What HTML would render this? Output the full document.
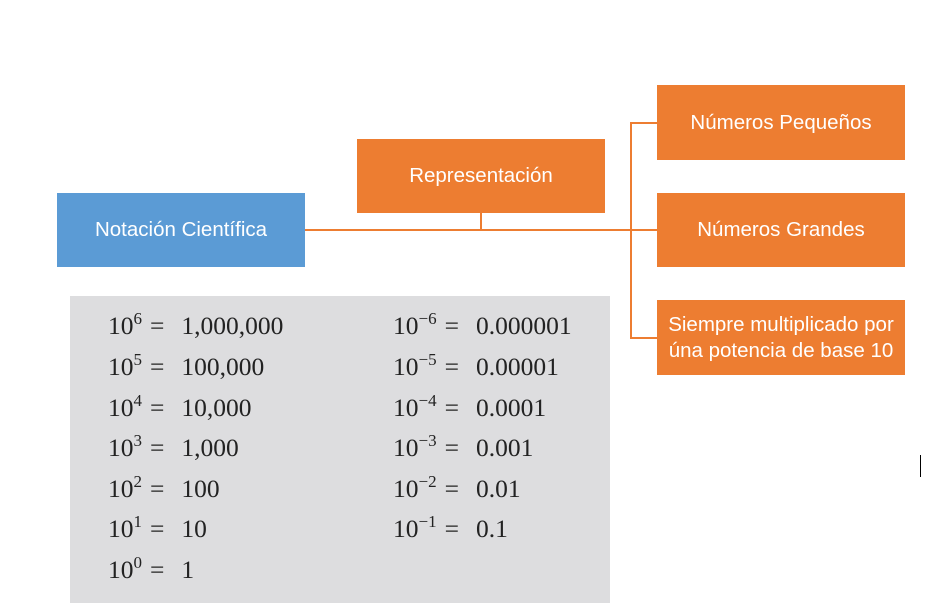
<!DOCTYPE html>
<html><head><meta charset="utf-8"><style>
body{margin:0;width:931px;height:610px;background:#fff;position:relative;overflow:hidden;font-family:"Liberation Sans",sans-serif}
.b{position:absolute;color:#fff;display:flex;align-items:center;justify-content:center;text-align:center;font-size:20.5px;line-height:26px}
.o{background:#ED7D31}
.l{position:absolute;background:#ED7D31}
.g{position:absolute;left:70px;top:296px;width:540px;height:307px;background:#DDDDDF}
.r{position:absolute;font-family:"Liberation Serif",serif;font-size:25.5px;color:#222;white-space:pre}
.r sup{font-size:17px;vertical-align:0;position:relative;top:-10px}
.e{display:inline-block;margin:0 17px 0 8px}
</style></head><body>
<div class="b" style="left:57px;top:193px;width:248px;height:74px;background:#5B9BD5">Notación Científica</div>
<div class="b o" style="left:357px;top:139px;width:248px;height:74px">Representación</div>
<div class="b o" style="left:657px;top:85px;width:248px;height:75px">Números Pequeños</div>
<div class="b o" style="left:657px;top:193px;width:248px;height:74px">Números Grandes</div>
<div class="b o" style="left:657px;top:300px;width:248px;height:75px;white-space:nowrap">Siempre multiplicado por<br>úna potencia de base 10</div>
<div class="l" style="left:305px;top:229px;width:352px;height:2px"></div>
<div class="l" style="left:480px;top:213px;width:2px;height:17px"></div>
<div class="l" style="left:630px;top:122px;width:2px;height:217px"></div>
<div class="l" style="left:630px;top:122px;width:27px;height:2px"></div>
<div class="l" style="left:630px;top:337px;width:27px;height:2px"></div>
<div style="position:absolute;left:920px;top:455px;width:1px;height:22px;background:#000"></div>
<div class="g"></div>
<div class="r" style="left:108px;top:311px">10<sup>6</sup><span class="e">=</span>1,000,000</div>
<div class="r" style="left:108px;top:352px">10<sup>5</sup><span class="e">=</span>100,000</div>
<div class="r" style="left:108px;top:393px">10<sup>4</sup><span class="e">=</span>10,000</div>
<div class="r" style="left:108px;top:433px">10<sup>3</sup><span class="e">=</span>1,000</div>
<div class="r" style="left:108px;top:474px">10<sup>2</sup><span class="e">=</span>100</div>
<div class="r" style="left:108px;top:514px">10<sup>1</sup><span class="e">=</span>10</div>
<div class="r" style="left:108px;top:555px">10<sup>0</sup><span class="e">=</span>1</div>
<div class="r" style="left:393px;top:311px">10<sup>−6</sup><span class="e">=</span>0.000001</div>
<div class="r" style="left:393px;top:352px">10<sup>−5</sup><span class="e">=</span>0.00001</div>
<div class="r" style="left:393px;top:393px">10<sup>−4</sup><span class="e">=</span>0.0001</div>
<div class="r" style="left:393px;top:433px">10<sup>−3</sup><span class="e">=</span>0.001</div>
<div class="r" style="left:393px;top:474px">10<sup>−2</sup><span class="e">=</span>0.01</div>
<div class="r" style="left:393px;top:514px">10<sup>−1</sup><span class="e">=</span>0.1</div>
</body></html>
